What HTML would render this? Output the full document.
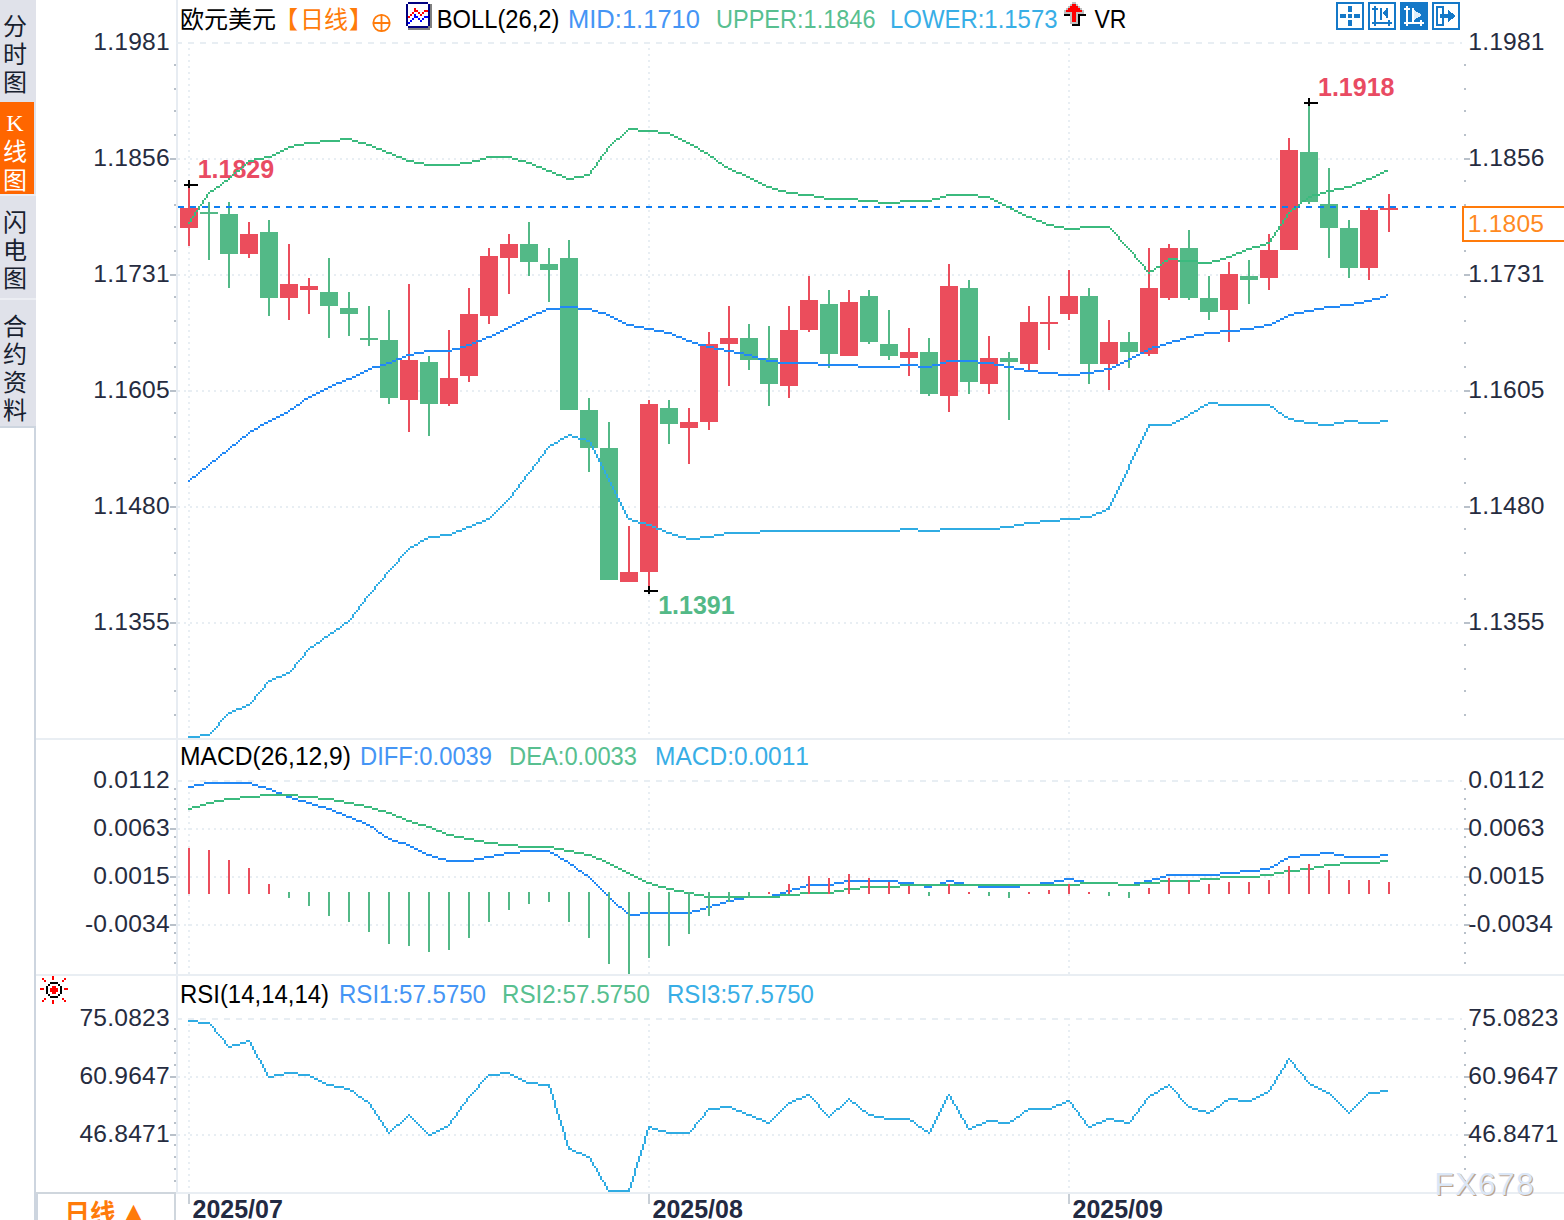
<!DOCTYPE html>
<html lang="zh-CN"><head><meta charset="utf-8"><title>欧元美元 日线</title>
<style>html,body{margin:0;padding:0;background:#fff;}body{width:1564px;height:1220px;overflow:hidden;}svg{display:block;font-family:'Liberation Sans', 'Noto Sans CJK SC', sans-serif;}text{font-kerning:none;font-variant-ligatures:none;}.cr{shape-rendering:crispEdges;}</style></head><body>
<svg width="1564" height="1220" viewBox="0 0 1564 1220">
<rect x="0" y="0" width="1564" height="1220" fill="#ffffff"/>
<g class="cr">
<rect x="34" y="0" width="2" height="1192" fill="#cdd5df"/>
<rect x="34" y="1192" width="4" height="28" fill="#cdd5df"/>
<rect x="176" y="0" width="2" height="1192" fill="#e7ecf2"/>
<rect x="36" y="738" width="1528" height="2" fill="#e9eef3"/>
<rect x="36" y="974" width="1528" height="2" fill="#e9eef3"/>
<rect x="176" y="1192" width="1388" height="2" fill="#e9eef3"/>
<rect x="36" y="1192" width="140" height="2" fill="#cfd6dd"/>
<rect x="174" y="1194" width="2" height="26" fill="#cfd6dd"/>
</g>
<line x1="176" y1="43" x2="1462" y2="43" stroke="#e8eef3" stroke-width="2" stroke-dasharray="6 6" class="cr"/>
<line x1="178" y1="159" x2="1460" y2="159" stroke="#e8eef3" stroke-width="2" stroke-dasharray="2 4" class="cr"/>
<line x1="178" y1="275" x2="1460" y2="275" stroke="#e8eef3" stroke-width="2" stroke-dasharray="2 4" class="cr"/>
<line x1="178" y1="391" x2="1460" y2="391" stroke="#e8eef3" stroke-width="2" stroke-dasharray="2 4" class="cr"/>
<line x1="178" y1="507" x2="1460" y2="507" stroke="#e8eef3" stroke-width="2" stroke-dasharray="2 4" class="cr"/>
<line x1="178" y1="623" x2="1460" y2="623" stroke="#e8eef3" stroke-width="2" stroke-dasharray="2 4" class="cr"/>
<line x1="176" y1="781" x2="1462" y2="781" stroke="#e8eef3" stroke-width="2" stroke-dasharray="6 6" class="cr"/>
<line x1="178" y1="829" x2="1460" y2="829" stroke="#e8eef3" stroke-width="2" stroke-dasharray="2 4" class="cr"/>
<line x1="178" y1="877" x2="1460" y2="877" stroke="#e8eef3" stroke-width="2" stroke-dasharray="2 4" class="cr"/>
<line x1="178" y1="925" x2="1460" y2="925" stroke="#e8eef3" stroke-width="2" stroke-dasharray="2 4" class="cr"/>
<line x1="176" y1="1019" x2="1462" y2="1019" stroke="#e8eef3" stroke-width="2" stroke-dasharray="6 6" class="cr"/>
<line x1="178" y1="1077" x2="1460" y2="1077" stroke="#e8eef3" stroke-width="2" stroke-dasharray="2 4" class="cr"/>
<line x1="178" y1="1135" x2="1460" y2="1135" stroke="#e8eef3" stroke-width="2" stroke-dasharray="2 4" class="cr"/>
<line x1="189" y1="48" x2="189" y2="738" stroke="#e8eef3" stroke-width="2" stroke-dasharray="2 4" class="cr"/>
<line x1="189" y1="786" x2="189" y2="974" stroke="#e8eef3" stroke-width="2" stroke-dasharray="2 4" class="cr"/>
<line x1="189" y1="1024" x2="189" y2="1192" stroke="#e8eef3" stroke-width="2" stroke-dasharray="2 4" class="cr"/>
<line x1="649" y1="48" x2="649" y2="738" stroke="#e8eef3" stroke-width="2" stroke-dasharray="2 4" class="cr"/>
<line x1="649" y1="786" x2="649" y2="974" stroke="#e8eef3" stroke-width="2" stroke-dasharray="2 4" class="cr"/>
<line x1="649" y1="1024" x2="649" y2="1192" stroke="#e8eef3" stroke-width="2" stroke-dasharray="2 4" class="cr"/>
<line x1="1069" y1="48" x2="1069" y2="738" stroke="#e8eef3" stroke-width="2" stroke-dasharray="2 4" class="cr"/>
<line x1="1069" y1="786" x2="1069" y2="974" stroke="#e8eef3" stroke-width="2" stroke-dasharray="2 4" class="cr"/>
<line x1="1069" y1="1024" x2="1069" y2="1192" stroke="#e8eef3" stroke-width="2" stroke-dasharray="2 4" class="cr"/>
<g class="cr">
<rect x="174" y="64" width="2" height="2" fill="#b9c1ca"/>
<rect x="1464" y="64" width="2" height="2" fill="#b9c1ca"/>
<rect x="174" y="88" width="2" height="2" fill="#b9c1ca"/>
<rect x="1464" y="88" width="2" height="2" fill="#b9c1ca"/>
<rect x="174" y="110" width="2" height="2" fill="#b9c1ca"/>
<rect x="1464" y="110" width="2" height="2" fill="#b9c1ca"/>
<rect x="174" y="134" width="2" height="2" fill="#b9c1ca"/>
<rect x="1464" y="134" width="2" height="2" fill="#b9c1ca"/>
<rect x="170" y="158" width="6" height="2" fill="#b9c1ca"/>
<rect x="1464" y="158" width="6" height="2" fill="#b9c1ca"/>
<rect x="174" y="180" width="2" height="2" fill="#b9c1ca"/>
<rect x="1464" y="180" width="2" height="2" fill="#b9c1ca"/>
<rect x="174" y="204" width="2" height="2" fill="#b9c1ca"/>
<rect x="1464" y="204" width="2" height="2" fill="#b9c1ca"/>
<rect x="174" y="226" width="2" height="2" fill="#b9c1ca"/>
<rect x="1464" y="226" width="2" height="2" fill="#b9c1ca"/>
<rect x="174" y="250" width="2" height="2" fill="#b9c1ca"/>
<rect x="1464" y="250" width="2" height="2" fill="#b9c1ca"/>
<rect x="170" y="274" width="6" height="2" fill="#b9c1ca"/>
<rect x="1464" y="274" width="6" height="2" fill="#b9c1ca"/>
<rect x="174" y="296" width="2" height="2" fill="#b9c1ca"/>
<rect x="1464" y="296" width="2" height="2" fill="#b9c1ca"/>
<rect x="174" y="320" width="2" height="2" fill="#b9c1ca"/>
<rect x="1464" y="320" width="2" height="2" fill="#b9c1ca"/>
<rect x="174" y="342" width="2" height="2" fill="#b9c1ca"/>
<rect x="1464" y="342" width="2" height="2" fill="#b9c1ca"/>
<rect x="174" y="366" width="2" height="2" fill="#b9c1ca"/>
<rect x="1464" y="366" width="2" height="2" fill="#b9c1ca"/>
<rect x="170" y="390" width="6" height="2" fill="#b9c1ca"/>
<rect x="1464" y="390" width="6" height="2" fill="#b9c1ca"/>
<rect x="174" y="412" width="2" height="2" fill="#b9c1ca"/>
<rect x="1464" y="412" width="2" height="2" fill="#b9c1ca"/>
<rect x="174" y="436" width="2" height="2" fill="#b9c1ca"/>
<rect x="1464" y="436" width="2" height="2" fill="#b9c1ca"/>
<rect x="174" y="458" width="2" height="2" fill="#b9c1ca"/>
<rect x="1464" y="458" width="2" height="2" fill="#b9c1ca"/>
<rect x="174" y="482" width="2" height="2" fill="#b9c1ca"/>
<rect x="1464" y="482" width="2" height="2" fill="#b9c1ca"/>
<rect x="170" y="506" width="6" height="2" fill="#b9c1ca"/>
<rect x="1464" y="506" width="6" height="2" fill="#b9c1ca"/>
<rect x="174" y="528" width="2" height="2" fill="#b9c1ca"/>
<rect x="1464" y="528" width="2" height="2" fill="#b9c1ca"/>
<rect x="174" y="552" width="2" height="2" fill="#b9c1ca"/>
<rect x="1464" y="552" width="2" height="2" fill="#b9c1ca"/>
<rect x="174" y="574" width="2" height="2" fill="#b9c1ca"/>
<rect x="1464" y="574" width="2" height="2" fill="#b9c1ca"/>
<rect x="174" y="598" width="2" height="2" fill="#b9c1ca"/>
<rect x="1464" y="598" width="2" height="2" fill="#b9c1ca"/>
<rect x="170" y="622" width="6" height="2" fill="#b9c1ca"/>
<rect x="1464" y="622" width="6" height="2" fill="#b9c1ca"/>
<rect x="174" y="644" width="2" height="2" fill="#b9c1ca"/>
<rect x="1464" y="644" width="2" height="2" fill="#b9c1ca"/>
<rect x="174" y="668" width="2" height="2" fill="#b9c1ca"/>
<rect x="1464" y="668" width="2" height="2" fill="#b9c1ca"/>
<rect x="174" y="690" width="2" height="2" fill="#b9c1ca"/>
<rect x="1464" y="690" width="2" height="2" fill="#b9c1ca"/>
<rect x="174" y="714" width="2" height="2" fill="#b9c1ca"/>
<rect x="1464" y="714" width="2" height="2" fill="#b9c1ca"/>
<rect x="174" y="788" width="2" height="2" fill="#b9c1ca"/>
<rect x="1464" y="788" width="2" height="2" fill="#b9c1ca"/>
<rect x="174" y="798" width="2" height="2" fill="#b9c1ca"/>
<rect x="1464" y="798" width="2" height="2" fill="#b9c1ca"/>
<rect x="174" y="808" width="2" height="2" fill="#b9c1ca"/>
<rect x="1464" y="808" width="2" height="2" fill="#b9c1ca"/>
<rect x="174" y="818" width="2" height="2" fill="#b9c1ca"/>
<rect x="1464" y="818" width="2" height="2" fill="#b9c1ca"/>
<rect x="170" y="828" width="6" height="2" fill="#b9c1ca"/>
<rect x="1464" y="828" width="6" height="2" fill="#b9c1ca"/>
<rect x="174" y="836" width="2" height="2" fill="#b9c1ca"/>
<rect x="1464" y="836" width="2" height="2" fill="#b9c1ca"/>
<rect x="174" y="846" width="2" height="2" fill="#b9c1ca"/>
<rect x="1464" y="846" width="2" height="2" fill="#b9c1ca"/>
<rect x="174" y="856" width="2" height="2" fill="#b9c1ca"/>
<rect x="1464" y="856" width="2" height="2" fill="#b9c1ca"/>
<rect x="174" y="866" width="2" height="2" fill="#b9c1ca"/>
<rect x="1464" y="866" width="2" height="2" fill="#b9c1ca"/>
<rect x="170" y="876" width="6" height="2" fill="#b9c1ca"/>
<rect x="1464" y="876" width="6" height="2" fill="#b9c1ca"/>
<rect x="174" y="884" width="2" height="2" fill="#b9c1ca"/>
<rect x="1464" y="884" width="2" height="2" fill="#b9c1ca"/>
<rect x="174" y="894" width="2" height="2" fill="#b9c1ca"/>
<rect x="1464" y="894" width="2" height="2" fill="#b9c1ca"/>
<rect x="174" y="904" width="2" height="2" fill="#b9c1ca"/>
<rect x="1464" y="904" width="2" height="2" fill="#b9c1ca"/>
<rect x="174" y="914" width="2" height="2" fill="#b9c1ca"/>
<rect x="1464" y="914" width="2" height="2" fill="#b9c1ca"/>
<rect x="170" y="924" width="6" height="2" fill="#b9c1ca"/>
<rect x="1464" y="924" width="6" height="2" fill="#b9c1ca"/>
<rect x="174" y="932" width="2" height="2" fill="#b9c1ca"/>
<rect x="1464" y="932" width="2" height="2" fill="#b9c1ca"/>
<rect x="174" y="942" width="2" height="2" fill="#b9c1ca"/>
<rect x="1464" y="942" width="2" height="2" fill="#b9c1ca"/>
<rect x="174" y="952" width="2" height="2" fill="#b9c1ca"/>
<rect x="1464" y="952" width="2" height="2" fill="#b9c1ca"/>
<rect x="174" y="962" width="2" height="2" fill="#b9c1ca"/>
<rect x="1464" y="962" width="2" height="2" fill="#b9c1ca"/>
<rect x="174" y="1028" width="2" height="2" fill="#b9c1ca"/>
<rect x="1464" y="1028" width="2" height="2" fill="#b9c1ca"/>
<rect x="174" y="1040" width="2" height="2" fill="#b9c1ca"/>
<rect x="1464" y="1040" width="2" height="2" fill="#b9c1ca"/>
<rect x="174" y="1052" width="2" height="2" fill="#b9c1ca"/>
<rect x="1464" y="1052" width="2" height="2" fill="#b9c1ca"/>
<rect x="174" y="1064" width="2" height="2" fill="#b9c1ca"/>
<rect x="1464" y="1064" width="2" height="2" fill="#b9c1ca"/>
<rect x="170" y="1076" width="6" height="2" fill="#b9c1ca"/>
<rect x="1464" y="1076" width="6" height="2" fill="#b9c1ca"/>
<rect x="174" y="1086" width="2" height="2" fill="#b9c1ca"/>
<rect x="1464" y="1086" width="2" height="2" fill="#b9c1ca"/>
<rect x="174" y="1098" width="2" height="2" fill="#b9c1ca"/>
<rect x="1464" y="1098" width="2" height="2" fill="#b9c1ca"/>
<rect x="174" y="1110" width="2" height="2" fill="#b9c1ca"/>
<rect x="1464" y="1110" width="2" height="2" fill="#b9c1ca"/>
<rect x="174" y="1122" width="2" height="2" fill="#b9c1ca"/>
<rect x="1464" y="1122" width="2" height="2" fill="#b9c1ca"/>
<rect x="170" y="1134" width="6" height="2" fill="#b9c1ca"/>
<rect x="1464" y="1134" width="6" height="2" fill="#b9c1ca"/>
<rect x="174" y="1144" width="2" height="2" fill="#b9c1ca"/>
<rect x="1464" y="1144" width="2" height="2" fill="#b9c1ca"/>
<rect x="174" y="1156" width="2" height="2" fill="#b9c1ca"/>
<rect x="1464" y="1156" width="2" height="2" fill="#b9c1ca"/>
<rect x="174" y="1168" width="2" height="2" fill="#b9c1ca"/>
<rect x="1464" y="1168" width="2" height="2" fill="#b9c1ca"/>
<rect x="174" y="1180" width="2" height="2" fill="#b9c1ca"/>
<rect x="1464" y="1180" width="2" height="2" fill="#b9c1ca"/>
</g>
<text x="169.8" y="49.5" font-size="24.6" fill="#262c40" text-anchor="end" font-weight="normal" letter-spacing="0.2">1.1981</text>
<text x="1468.3" y="49.5" font-size="24.6" fill="#262c40" text-anchor="start" font-weight="normal" letter-spacing="0.2">1.1981</text>
<text x="169.8" y="165.5" font-size="24.6" fill="#262c40" text-anchor="end" font-weight="normal" letter-spacing="0.2">1.1856</text>
<text x="1468.3" y="165.5" font-size="24.6" fill="#262c40" text-anchor="start" font-weight="normal" letter-spacing="0.2">1.1856</text>
<text x="169.8" y="281.5" font-size="24.6" fill="#262c40" text-anchor="end" font-weight="normal" letter-spacing="0.2">1.1731</text>
<text x="1468.3" y="281.5" font-size="24.6" fill="#262c40" text-anchor="start" font-weight="normal" letter-spacing="0.2">1.1731</text>
<text x="169.8" y="397.5" font-size="24.6" fill="#262c40" text-anchor="end" font-weight="normal" letter-spacing="0.2">1.1605</text>
<text x="1468.3" y="397.5" font-size="24.6" fill="#262c40" text-anchor="start" font-weight="normal" letter-spacing="0.2">1.1605</text>
<text x="169.8" y="513.5" font-size="24.6" fill="#262c40" text-anchor="end" font-weight="normal" letter-spacing="0.2">1.1480</text>
<text x="1468.3" y="513.5" font-size="24.6" fill="#262c40" text-anchor="start" font-weight="normal" letter-spacing="0.2">1.1480</text>
<text x="169.8" y="629.5" font-size="24.6" fill="#262c40" text-anchor="end" font-weight="normal" letter-spacing="0.2">1.1355</text>
<text x="1468.3" y="629.5" font-size="24.6" fill="#262c40" text-anchor="start" font-weight="normal" letter-spacing="0.2">1.1355</text>
<text x="169.8" y="787.5" font-size="24.6" fill="#262c40" text-anchor="end" font-weight="normal" letter-spacing="0.2">0.0112</text>
<text x="1468.3" y="787.5" font-size="24.6" fill="#262c40" text-anchor="start" font-weight="normal" letter-spacing="0.2">0.0112</text>
<text x="169.8" y="835.5" font-size="24.6" fill="#262c40" text-anchor="end" font-weight="normal" letter-spacing="0.2">0.0063</text>
<text x="1468.3" y="835.5" font-size="24.6" fill="#262c40" text-anchor="start" font-weight="normal" letter-spacing="0.2">0.0063</text>
<text x="169.8" y="883.5" font-size="24.6" fill="#262c40" text-anchor="end" font-weight="normal" letter-spacing="0.2">0.0015</text>
<text x="1468.3" y="883.5" font-size="24.6" fill="#262c40" text-anchor="start" font-weight="normal" letter-spacing="0.2">0.0015</text>
<text x="169.8" y="931.5" font-size="24.6" fill="#262c40" text-anchor="end" font-weight="normal" letter-spacing="0.2">-0.0034</text>
<text x="1468.3" y="931.5" font-size="24.6" fill="#262c40" text-anchor="start" font-weight="normal" letter-spacing="0.2">-0.0034</text>
<text x="169.8" y="1025.5" font-size="24.6" fill="#262c40" text-anchor="end" font-weight="normal" letter-spacing="0.2">75.0823</text>
<text x="1468.3" y="1025.5" font-size="24.6" fill="#262c40" text-anchor="start" font-weight="normal" letter-spacing="0.2">75.0823</text>
<text x="169.8" y="1083.5" font-size="24.6" fill="#262c40" text-anchor="end" font-weight="normal" letter-spacing="0.2">60.9647</text>
<text x="1468.3" y="1083.5" font-size="24.6" fill="#262c40" text-anchor="start" font-weight="normal" letter-spacing="0.2">60.9647</text>
<text x="169.8" y="1141.5" font-size="24.6" fill="#262c40" text-anchor="end" font-weight="normal" letter-spacing="0.2">46.8471</text>
<text x="1468.3" y="1141.5" font-size="24.6" fill="#262c40" text-anchor="start" font-weight="normal" letter-spacing="0.2">46.8471</text>
<g class="cr">
<rect x="188" y="186" width="2" height="60" fill="#eb4d5c"/>
<rect x="180" y="208" width="18" height="20" fill="#eb4d5c"/>
<rect x="182" y="210" width="14" height="16" fill="#eb4d5c"/>
<rect x="208" y="202" width="2" height="58" fill="#53b987"/>
<rect x="200" y="212" width="18" height="2" fill="#53b987"/>
<rect x="228" y="202" width="2" height="86" fill="#53b987"/>
<rect x="220" y="214" width="18" height="40" fill="#53b987"/>
<rect x="222" y="216" width="14" height="36" fill="#53b987"/>
<rect x="248" y="222" width="2" height="36" fill="#eb4d5c"/>
<rect x="240" y="234" width="18" height="20" fill="#eb4d5c"/>
<rect x="242" y="236" width="14" height="16" fill="#eb4d5c"/>
<rect x="268" y="220" width="2" height="96" fill="#53b987"/>
<rect x="260" y="232" width="18" height="66" fill="#53b987"/>
<rect x="262" y="234" width="14" height="62" fill="#53b987"/>
<rect x="288" y="244" width="2" height="76" fill="#eb4d5c"/>
<rect x="280" y="284" width="18" height="14" fill="#eb4d5c"/>
<rect x="282" y="286" width="14" height="10" fill="#eb4d5c"/>
<rect x="308" y="278" width="2" height="36" fill="#eb4d5c"/>
<rect x="300" y="286" width="18" height="4" fill="#eb4d5c"/>
<rect x="328" y="258" width="2" height="80" fill="#53b987"/>
<rect x="320" y="292" width="18" height="14" fill="#53b987"/>
<rect x="322" y="294" width="14" height="10" fill="#53b987"/>
<rect x="348" y="292" width="2" height="44" fill="#53b987"/>
<rect x="340" y="308" width="18" height="6" fill="#53b987"/>
<rect x="342" y="310" width="14" height="2" fill="#53b987"/>
<rect x="368" y="306" width="2" height="40" fill="#53b987"/>
<rect x="360" y="338" width="18" height="2" fill="#53b987"/>
<rect x="388" y="310" width="2" height="94" fill="#53b987"/>
<rect x="380" y="340" width="18" height="58" fill="#53b987"/>
<rect x="382" y="342" width="14" height="54" fill="#53b987"/>
<rect x="408" y="284" width="2" height="148" fill="#eb4d5c"/>
<rect x="400" y="360" width="18" height="40" fill="#eb4d5c"/>
<rect x="402" y="362" width="14" height="36" fill="#eb4d5c"/>
<rect x="428" y="356" width="2" height="80" fill="#53b987"/>
<rect x="420" y="362" width="18" height="42" fill="#53b987"/>
<rect x="422" y="364" width="14" height="38" fill="#53b987"/>
<rect x="448" y="330" width="2" height="76" fill="#eb4d5c"/>
<rect x="440" y="378" width="18" height="26" fill="#eb4d5c"/>
<rect x="442" y="380" width="14" height="22" fill="#eb4d5c"/>
<rect x="468" y="288" width="2" height="94" fill="#eb4d5c"/>
<rect x="460" y="314" width="18" height="62" fill="#eb4d5c"/>
<rect x="462" y="316" width="14" height="58" fill="#eb4d5c"/>
<rect x="488" y="248" width="2" height="76" fill="#eb4d5c"/>
<rect x="480" y="256" width="18" height="60" fill="#eb4d5c"/>
<rect x="482" y="258" width="14" height="56" fill="#eb4d5c"/>
<rect x="508" y="234" width="2" height="60" fill="#eb4d5c"/>
<rect x="500" y="244" width="18" height="14" fill="#eb4d5c"/>
<rect x="502" y="246" width="14" height="10" fill="#eb4d5c"/>
<rect x="528" y="222" width="2" height="54" fill="#53b987"/>
<rect x="520" y="244" width="18" height="18" fill="#53b987"/>
<rect x="522" y="246" width="14" height="14" fill="#53b987"/>
<rect x="548" y="248" width="2" height="54" fill="#53b987"/>
<rect x="540" y="264" width="18" height="6" fill="#53b987"/>
<rect x="542" y="266" width="14" height="2" fill="#53b987"/>
<rect x="568" y="240" width="2" height="170" fill="#53b987"/>
<rect x="560" y="258" width="18" height="152" fill="#53b987"/>
<rect x="562" y="260" width="14" height="148" fill="#53b987"/>
<rect x="588" y="398" width="2" height="74" fill="#53b987"/>
<rect x="580" y="410" width="18" height="38" fill="#53b987"/>
<rect x="582" y="412" width="14" height="34" fill="#53b987"/>
<rect x="608" y="422" width="2" height="158" fill="#53b987"/>
<rect x="600" y="448" width="18" height="132" fill="#53b987"/>
<rect x="602" y="450" width="14" height="128" fill="#53b987"/>
<rect x="628" y="526" width="2" height="56" fill="#eb4d5c"/>
<rect x="620" y="572" width="18" height="10" fill="#eb4d5c"/>
<rect x="622" y="574" width="14" height="6" fill="#eb4d5c"/>
<rect x="648" y="400" width="2" height="190" fill="#eb4d5c"/>
<rect x="640" y="404" width="18" height="168" fill="#eb4d5c"/>
<rect x="642" y="406" width="14" height="164" fill="#eb4d5c"/>
<rect x="668" y="400" width="2" height="44" fill="#53b987"/>
<rect x="660" y="408" width="18" height="16" fill="#53b987"/>
<rect x="662" y="410" width="14" height="12" fill="#53b987"/>
<rect x="688" y="408" width="2" height="56" fill="#eb4d5c"/>
<rect x="680" y="422" width="18" height="6" fill="#eb4d5c"/>
<rect x="682" y="424" width="14" height="2" fill="#eb4d5c"/>
<rect x="708" y="332" width="2" height="98" fill="#eb4d5c"/>
<rect x="700" y="344" width="18" height="78" fill="#eb4d5c"/>
<rect x="702" y="346" width="14" height="74" fill="#eb4d5c"/>
<rect x="728" y="306" width="2" height="80" fill="#eb4d5c"/>
<rect x="720" y="338" width="18" height="6" fill="#eb4d5c"/>
<rect x="722" y="340" width="14" height="2" fill="#eb4d5c"/>
<rect x="748" y="324" width="2" height="46" fill="#53b987"/>
<rect x="740" y="338" width="18" height="22" fill="#53b987"/>
<rect x="742" y="340" width="14" height="18" fill="#53b987"/>
<rect x="768" y="326" width="2" height="80" fill="#53b987"/>
<rect x="760" y="358" width="18" height="26" fill="#53b987"/>
<rect x="762" y="360" width="14" height="22" fill="#53b987"/>
<rect x="788" y="306" width="2" height="92" fill="#eb4d5c"/>
<rect x="780" y="330" width="18" height="56" fill="#eb4d5c"/>
<rect x="782" y="332" width="14" height="52" fill="#eb4d5c"/>
<rect x="808" y="276" width="2" height="56" fill="#eb4d5c"/>
<rect x="800" y="300" width="18" height="30" fill="#eb4d5c"/>
<rect x="802" y="302" width="14" height="26" fill="#eb4d5c"/>
<rect x="828" y="290" width="2" height="78" fill="#53b987"/>
<rect x="820" y="304" width="18" height="50" fill="#53b987"/>
<rect x="822" y="306" width="14" height="46" fill="#53b987"/>
<rect x="848" y="290" width="2" height="66" fill="#eb4d5c"/>
<rect x="840" y="302" width="18" height="54" fill="#eb4d5c"/>
<rect x="842" y="304" width="14" height="50" fill="#eb4d5c"/>
<rect x="868" y="290" width="2" height="54" fill="#53b987"/>
<rect x="860" y="296" width="18" height="46" fill="#53b987"/>
<rect x="862" y="298" width="14" height="42" fill="#53b987"/>
<rect x="888" y="310" width="2" height="50" fill="#53b987"/>
<rect x="880" y="344" width="18" height="12" fill="#53b987"/>
<rect x="882" y="346" width="14" height="8" fill="#53b987"/>
<rect x="908" y="328" width="2" height="48" fill="#eb4d5c"/>
<rect x="900" y="352" width="18" height="6" fill="#eb4d5c"/>
<rect x="902" y="354" width="14" height="2" fill="#eb4d5c"/>
<rect x="928" y="338" width="2" height="58" fill="#53b987"/>
<rect x="920" y="352" width="18" height="42" fill="#53b987"/>
<rect x="922" y="354" width="14" height="38" fill="#53b987"/>
<rect x="948" y="264" width="2" height="148" fill="#eb4d5c"/>
<rect x="940" y="286" width="18" height="110" fill="#eb4d5c"/>
<rect x="942" y="288" width="14" height="106" fill="#eb4d5c"/>
<rect x="968" y="280" width="2" height="114" fill="#53b987"/>
<rect x="960" y="288" width="18" height="94" fill="#53b987"/>
<rect x="962" y="290" width="14" height="90" fill="#53b987"/>
<rect x="988" y="336" width="2" height="58" fill="#eb4d5c"/>
<rect x="980" y="358" width="18" height="26" fill="#eb4d5c"/>
<rect x="982" y="360" width="14" height="22" fill="#eb4d5c"/>
<rect x="1008" y="352" width="2" height="68" fill="#53b987"/>
<rect x="1000" y="358" width="18" height="4" fill="#53b987"/>
<rect x="1028" y="306" width="2" height="64" fill="#eb4d5c"/>
<rect x="1020" y="322" width="18" height="42" fill="#eb4d5c"/>
<rect x="1022" y="324" width="14" height="38" fill="#eb4d5c"/>
<rect x="1048" y="296" width="2" height="54" fill="#eb4d5c"/>
<rect x="1040" y="322" width="18" height="2" fill="#eb4d5c"/>
<rect x="1068" y="270" width="2" height="50" fill="#eb4d5c"/>
<rect x="1060" y="296" width="18" height="18" fill="#eb4d5c"/>
<rect x="1062" y="298" width="14" height="14" fill="#eb4d5c"/>
<rect x="1088" y="288" width="2" height="96" fill="#53b987"/>
<rect x="1080" y="296" width="18" height="68" fill="#53b987"/>
<rect x="1082" y="298" width="14" height="64" fill="#53b987"/>
<rect x="1108" y="320" width="2" height="70" fill="#eb4d5c"/>
<rect x="1100" y="342" width="18" height="22" fill="#eb4d5c"/>
<rect x="1102" y="344" width="14" height="18" fill="#eb4d5c"/>
<rect x="1128" y="332" width="2" height="36" fill="#53b987"/>
<rect x="1120" y="342" width="18" height="10" fill="#53b987"/>
<rect x="1122" y="344" width="14" height="6" fill="#53b987"/>
<rect x="1148" y="248" width="2" height="108" fill="#eb4d5c"/>
<rect x="1140" y="288" width="18" height="66" fill="#eb4d5c"/>
<rect x="1142" y="290" width="14" height="62" fill="#eb4d5c"/>
<rect x="1168" y="244" width="2" height="56" fill="#eb4d5c"/>
<rect x="1160" y="248" width="18" height="50" fill="#eb4d5c"/>
<rect x="1162" y="250" width="14" height="46" fill="#eb4d5c"/>
<rect x="1188" y="230" width="2" height="70" fill="#53b987"/>
<rect x="1180" y="248" width="18" height="50" fill="#53b987"/>
<rect x="1182" y="250" width="14" height="46" fill="#53b987"/>
<rect x="1208" y="276" width="2" height="44" fill="#53b987"/>
<rect x="1200" y="298" width="18" height="14" fill="#53b987"/>
<rect x="1202" y="300" width="14" height="10" fill="#53b987"/>
<rect x="1228" y="262" width="2" height="80" fill="#eb4d5c"/>
<rect x="1220" y="274" width="18" height="36" fill="#eb4d5c"/>
<rect x="1222" y="276" width="14" height="32" fill="#eb4d5c"/>
<rect x="1248" y="260" width="2" height="44" fill="#53b987"/>
<rect x="1240" y="276" width="18" height="4" fill="#53b987"/>
<rect x="1268" y="234" width="2" height="56" fill="#eb4d5c"/>
<rect x="1260" y="250" width="18" height="28" fill="#eb4d5c"/>
<rect x="1262" y="252" width="14" height="24" fill="#eb4d5c"/>
<rect x="1288" y="138" width="2" height="112" fill="#eb4d5c"/>
<rect x="1280" y="150" width="18" height="100" fill="#eb4d5c"/>
<rect x="1282" y="152" width="14" height="96" fill="#eb4d5c"/>
<rect x="1308" y="103" width="2" height="101" fill="#53b987"/>
<rect x="1300" y="152" width="18" height="50" fill="#53b987"/>
<rect x="1302" y="154" width="14" height="46" fill="#53b987"/>
<rect x="1328" y="168" width="2" height="90" fill="#53b987"/>
<rect x="1320" y="204" width="18" height="24" fill="#53b987"/>
<rect x="1322" y="206" width="14" height="20" fill="#53b987"/>
<rect x="1348" y="220" width="2" height="58" fill="#53b987"/>
<rect x="1340" y="228" width="18" height="40" fill="#53b987"/>
<rect x="1342" y="230" width="14" height="36" fill="#53b987"/>
<rect x="1368" y="208" width="2" height="72" fill="#eb4d5c"/>
<rect x="1360" y="210" width="18" height="58" fill="#eb4d5c"/>
<rect x="1362" y="212" width="14" height="54" fill="#eb4d5c"/>
<rect x="1388" y="194" width="2" height="38" fill="#eb4d5c"/>
<rect x="1380" y="208" width="18" height="2" fill="#eb4d5c"/>
</g>
<line x1="178" y1="207" x2="1456" y2="207" stroke="#0f7ef2" stroke-width="2" stroke-dasharray="6 6" class="cr"/>
<g class="cr">
<rect x="184" y="184" width="14" height="2" fill="#000"/>
<rect x="188" y="180" width="2" height="8" fill="#000"/>
</g>
<g class="cr">
<rect x="1304" y="102" width="14" height="2" fill="#000"/>
<rect x="1308" y="98" width="2" height="8" fill="#000"/>
</g>
<g class="cr">
<rect x="644" y="590" width="14" height="2" fill="#000"/>
<rect x="648" y="586" width="2" height="8" fill="#000"/>
</g>
<text x="197.7" y="177.5" font-size="25" fill="#e94b63" text-anchor="start" font-weight="bold">1.1829</text>
<text x="1318" y="95.8" font-size="25" fill="#e94b63" text-anchor="start" font-weight="bold">1.1918</text>
<text x="658.2" y="614.1" font-size="25" fill="#53b987" text-anchor="start" font-weight="bold">1.1391</text>
<path d="M1208 403h10M1204 405h4M1218 405h52M1200 407h4M1270 407h4M1198 409h2M1274 409h2M1194 411h4M1276 411h2M1190 413h4M1278 413h4M1188 415h2M1282 415h2M1184 417h4M1284 417h4M1180 419h4M1288 419h6M1176 421h4M1294 421h10M1344 421h14M1380 421h8M1172 423h4M1304 423h14M1334 423h10M1358 423h22M1148 425h24M1318 425h16M1148 427h2M1146 429h2M1146 431h2M1144 433h2M568 435h4M1144 435h2M564 437h4M572 437h6M1142 437h2M560 439h4M578 439h8M1142 439h2M558 441h2M586 441h4M1140 441h2M554 443h4M590 443h2M1140 443h2M550 445h4M590 445h2M1138 445h2M548 447h2M592 447h2M1138 447h2M546 449h2M592 449h2M1136 449h2M544 451h2M594 451h2M1136 451h2M544 453h2M594 453h2M1134 453h2M542 455h2M596 455h2M1134 455h2M540 457h2M596 457h2M1132 457h2M538 459h2M598 459h2M1132 459h2M538 461h2M598 461h2M1130 461h2M536 463h2M600 463h2M1130 463h2M534 465h2M600 465h2M1128 465h2M532 467h2M602 467h2M1128 467h2M532 469h2M602 469h2M1128 469h2M530 471h2M604 471h2M1126 471h2M528 473h2M604 473h2M1126 473h2M526 475h2M606 475h2M1124 475h2M524 477h2M606 477h2M1124 477h2M524 479h2M608 479h2M1122 479h2M522 481h2M608 481h2M1122 481h2M520 483h2M610 483h2M1120 483h2M518 485h2M610 485h2M1120 485h2M518 487h2M612 487h2M1118 487h2M516 489h2M612 489h2M1118 489h2M514 491h2M614 491h2M1116 491h2M512 493h2M614 493h2M1116 493h2M512 495h2M616 495h2M1114 495h2M510 497h2M616 497h2M1114 497h2M508 499h2M618 499h2M1112 499h2M506 501h2M618 501h2M1112 501h2M504 503h2M620 503h2M1110 503h2M502 505h2M620 505h2M1110 505h2M500 507h2M622 507h2M1108 507h2M498 509h2M622 509h2M1106 509h4M496 511h2M624 511h2M1102 511h4M494 513h2M624 513h2M1096 513h6M492 515h2M626 515h2M1092 515h4M490 517h2M626 517h2M1080 517h12M486 519h4M628 519h4M1060 519h20M482 521h4M632 521h6M1040 521h20M476 523h6M638 523h8M1024 523h16M472 525h4M646 525h6M1014 525h10M466 527h6M652 527h4M1000 527h14M462 529h4M656 529h6M900 529h18M940 529h60M456 531h6M662 531h4M760 531h140M918 531h22M452 533h4M666 533h6M724 533h36M440 535h12M672 535h6M714 535h10M428 537h12M678 537h8M700 537h14M424 539h4M686 539h14M420 541h4M418 543h2M414 545h4M410 547h4M408 549h2M406 551h2M404 553h2M402 555h2M400 557h2M398 559h2M398 561h2M396 563h2M394 565h2M392 567h2M390 569h2M388 571h2M386 573h2M384 575h2M384 577h2M382 579h2M380 581h2M378 583h2M376 585h2M374 587h2M374 589h2M372 591h2M370 593h2M368 595h2M366 597h2M364 599h2M364 601h2M362 603h2M360 605h2M358 607h2M358 609h2M356 611h2M354 613h2M352 615h2M352 617h2M350 619h2M348 621h2M344 623h4M342 625h2M340 627h2M336 629h4M334 631h2M330 633h4M328 635h2M324 637h4M322 639h2M320 641h2M316 643h4M314 645h2M310 647h4M308 649h2M306 651h2M304 653h2M304 655h2M302 657h2M300 659h2M298 661h2M296 663h2M294 665h2M294 667h2M292 669h2M290 671h2M286 673h4M282 675h4M276 677h6M272 679h4M268 681h4M266 683h2M264 685h2M264 687h2M262 689h2M260 691h2M258 693h2M256 695h2M254 697h2M254 699h2M252 701h2M250 703h2M246 705h4M242 707h4M236 709h6M232 711h4M228 713h4M226 715h2M224 717h2M222 719h2M220 721h2M218 723h2M218 725h2M216 727h2M214 729h2M212 731h2M210 733h2M200 735h10M188 737h12" fill="none" stroke="#30ace3" stroke-width="2" class="cr"/>
<path d="M1386 295h2M1380 297h6M1372 299h8M1364 301h8M1354 303h10M1340 305h14M560 307h18M1324 307h16M546 309h14M578 309h14M1314 309h10M542 311h4M592 311h6M1304 311h10M536 313h6M598 313h8M1294 313h10M532 315h4M606 315h4M1288 315h6M528 317h4M610 317h4M1284 317h4M524 319h4M614 319h4M1280 319h4M520 321h4M618 321h4M1276 321h4M516 323h4M622 323h4M1272 323h4M512 325h4M626 325h8M1264 325h8M508 327h4M634 327h10M1254 327h10M504 329h4M644 329h10M1240 329h14M500 331h4M654 331h10M1220 331h20M496 333h4M664 333h8M1204 333h16M492 335h4M672 335h4M1194 335h10M486 337h6M676 337h6M1186 337h8M482 339h4M682 339h4M1180 339h6M476 341h6M686 341h6M1172 341h8M472 343h4M692 343h6M1166 343h6M466 345h6M698 345h8M1160 345h6M460 347h6M706 347h8M1152 347h8M452 349h8M714 349h10M1148 349h4M424 351h28M724 351h10M1144 351h4M414 353h10M734 353h10M1140 353h4M406 355h8M744 355h8M1136 355h4M402 357h4M752 357h6M1132 357h4M396 359h6M758 359h8M1128 359h4M392 361h4M766 361h12M946 361h32M1124 361h4M386 363h6M778 363h40M940 363h6M978 363h16M1120 363h4M380 365h6M818 365h40M900 365h18M932 365h8M994 365h10M1116 365h4M372 367h8M858 367h42M918 367h14M1004 367h10M1112 367h4M368 369h4M1014 369h10M1104 369h8M364 371h4M1024 371h14M1094 371h10M360 373h4M1038 373h20M1080 373h14M356 375h4M1058 375h22M352 377h4M346 379h6M342 381h4M336 383h6M332 385h4M328 387h4M324 389h4M320 391h4M316 393h4M312 395h4M308 397h4M304 399h4M302 401h2M300 403h2M296 405h4M294 407h2M290 409h4M288 411h2M284 413h4M280 415h4M276 417h4M272 419h4M268 421h4M264 423h4M260 425h4M258 427h2M254 429h4M250 431h4M248 433h2M246 435h2M242 437h4M240 439h2M238 441h2M236 443h2M232 445h4M230 447h2M228 449h2M226 451h2M222 453h4M220 455h2M218 457h2M216 459h2M212 461h4M210 463h2M208 465h2M206 467h2M202 469h4M200 471h2M198 473h2M196 475h2M192 477h4M190 479h2M188 481h2" fill="none" stroke="#2288f5" stroke-width="2" class="cr"/>
<path d="M628 129h10M626 131h2M638 131h20M624 133h2M658 133h12M622 135h2M670 135h4M620 137h2M674 137h4M340 139h12M616 139h4M678 139h4M320 141h20M352 141h6M614 141h2M682 141h4M304 143h16M358 143h8M612 143h2M686 143h4M294 145h10M366 145h6M610 145h2M690 145h4M288 147h6M372 147h4M608 147h2M694 147h4M284 149h4M376 149h6M606 149h2M698 149h2M280 151h4M382 151h4M606 151h2M700 151h4M276 153h4M386 153h6M604 153h2M704 153h4M272 155h4M392 155h4M602 155h2M708 155h2M264 157h8M396 157h6M486 157h26M600 157h2M710 157h4M254 159h10M402 159h4M480 159h6M512 159h6M600 159h2M714 159h2M248 161h6M406 161h8M472 161h8M518 161h8M598 161h2M716 161h2M246 163h2M414 163h10M460 163h12M526 163h6M596 163h2M718 163h4M244 165h2M424 165h36M532 165h4M596 165h2M722 165h2M242 167h2M536 167h6M594 167h2M724 167h4M240 169h2M542 169h4M592 169h2M728 169h4M236 171h4M546 171h6M590 171h2M732 171h4M1384 171h4M234 173h2M552 173h4M590 173h2M736 173h6M1380 173h4M232 175h2M556 175h6M584 175h6M742 175h4M1376 175h4M230 177h2M562 177h4M574 177h10M746 177h4M1372 177h4M228 179h2M566 179h8M750 179h4M1366 179h6M224 181h4M754 181h4M1362 181h4M222 183h2M758 183h4M1356 183h6M220 185h2M762 185h4M1352 185h4M216 187h4M766 187h6M1344 187h8M214 189h2M772 189h6M1334 189h10M210 191h4M778 191h8M1326 191h8M208 193h2M786 193h12M1320 193h6M206 195h2M798 195h16M946 195h32M1312 195h8M206 197h2M814 197h10M940 197h6M978 197h12M1308 197h4M204 199h2M824 199h34M932 199h8M990 199h4M1306 199h2M202 201h2M858 201h20M900 201h32M994 201h4M1302 201h4M202 203h2M878 203h22M998 203h4M1300 203h2M200 205h2M1002 205h4M1298 205h2M198 207h2M1006 207h4M1296 207h2M198 209h2M1010 209h4M1292 209h4M196 211h2M1014 211h4M1290 211h2M194 213h2M1018 213h4M1288 213h2M194 215h2M1022 215h4M1286 215h2M192 217h2M1026 217h6M1286 217h2M190 219h2M1032 219h4M1284 219h2M190 221h2M1036 221h6M1282 221h2M188 223h2M1042 223h4M1282 223h2M1046 225h8M1280 225h2M1054 227h10M1080 227h30M1278 227h2M1064 229h16M1110 229h2M1278 229h2M1112 231h2M1276 231h2M1114 233h2M1274 233h2M1116 235h2M1274 235h2M1118 237h2M1272 237h2M1118 239h2M1270 239h2M1120 241h2M1270 241h2M1122 243h2M1266 243h4M1124 245h2M1260 245h6M1126 247h2M1252 247h8M1128 249h2M1246 249h6M1130 251h2M1242 251h4M1132 253h2M1236 253h6M1134 255h2M1232 255h4M1134 257h2M1226 257h6M1136 259h2M1168 259h10M1220 259h6M1138 261h2M1164 261h4M1178 261h20M1212 261h8M1140 263h2M1162 263h2M1198 263h14M1142 265h2M1160 265h2M1144 267h2M1156 267h4M1144 269h2M1154 269h2M1146 271h2M1150 271h4M1148 273h2" fill="none" stroke="#3bba7e" stroke-width="2" class="cr"/>
<path d="M204 783h48M194 785h10M252 785h6M188 787h6M258 787h8M266 789h6M272 791h4M276 793h6M282 795h4M286 797h6M292 799h6M298 801h8M306 803h6M312 805h6M318 807h8M326 809h6M332 811h4M336 813h6M342 815h4M346 817h6M352 819h4M356 821h6M362 823h4M366 825h4M370 827h4M374 829h2M376 831h2M378 833h4M382 835h2M384 837h4M388 839h4M392 841h6M398 843h8M406 845h4M410 847h4M414 849h4M418 851h4M520 851h30M422 853h4M504 853h16M550 853h4M1320 853h14M426 855h6M494 855h10M554 855h4M1300 855h20M1334 855h10M1380 855h8M432 857h6M484 857h10M558 857h2M1288 857h12M1344 857h36M438 859h8M474 859h10M560 859h4M1284 859h4M446 861h28M564 861h4M1280 861h4M568 863h2M1278 863h2M570 865h4M1274 865h4M574 867h2M1270 867h4M576 869h2M1260 869h10M578 871h4M1240 871h20M582 873h2M1220 873h20M584 875h4M1166 875h54M588 877h2M1160 877h6M590 879h2M1064 879h10M1152 879h8M592 881h2M844 881h54M946 881h8M1054 881h10M1074 881h10M1144 881h8M594 883h2M834 883h10M898 883h16M940 883h6M954 883h10M1040 883h14M1084 883h34M1134 883h10M596 885h2M806 885h28M914 885h10M932 885h8M964 885h14M1020 885h20M1118 885h16M598 887h2M800 887h6M924 887h8M978 887h42M600 889h2M792 889h8M602 891h2M786 891h6M604 893h2M780 893h6M606 895h2M772 895h8M608 897h2M744 897h28M610 899h2M734 899h10M612 901h2M726 901h8M614 903h2M720 903h6M616 905h2M712 905h8M618 907h4M706 907h6M622 909h2M700 909h6M624 911h2M692 911h8M626 913h2M640 913h52M628 915h12" fill="none" stroke="#2288f5" stroke-width="2" class="cr"/>
<path d="M260 795h38M240 797h20M298 797h20M224 799h16M318 799h16M214 801h10M334 801h10M206 803h8M344 803h10M200 805h6M354 805h10M192 807h8M364 807h8M188 809h4M372 809h6M378 811h8M386 813h6M392 815h4M396 817h6M402 819h4M406 821h6M412 823h6M418 825h8M426 827h6M432 829h4M436 831h6M442 833h4M446 835h8M454 837h10M464 839h10M474 841h10M484 843h14M498 845h20M518 847h36M554 849h10M564 851h10M574 853h10M584 855h8M592 857h4M596 859h6M602 861h4M1380 861h8M606 863h4M1340 863h40M610 865h4M1324 865h16M614 867h4M1314 867h10M618 869h4M1300 869h14M622 871h4M1284 871h16M626 873h4M1274 873h10M630 875h4M1260 875h14M634 877h4M1220 877h40M638 879h4M1200 879h20M642 881h4M1160 881h40M646 883h6M1080 883h38M1140 883h20M652 885h6M900 885h180M1118 885h22M658 887h8M860 887h40M666 889h8M844 889h16M674 891h10M834 891h10M684 893h10M800 893h34M694 895h10M780 895h20M704 897h76" fill="none" stroke="#3bba7e" stroke-width="2" class="cr"/>
<g class="cr">
<rect x="188" y="848" width="2" height="46" fill="#eb4d5c"/>
<rect x="208" y="850" width="2" height="44" fill="#eb4d5c"/>
<rect x="228" y="860" width="2" height="34" fill="#eb4d5c"/>
<rect x="248" y="868" width="2" height="26" fill="#eb4d5c"/>
<rect x="268" y="884" width="2" height="10" fill="#eb4d5c"/>
<rect x="288" y="892" width="2" height="6" fill="#53b987"/>
<rect x="308" y="892" width="2" height="14" fill="#53b987"/>
<rect x="328" y="892" width="2" height="24" fill="#53b987"/>
<rect x="348" y="892" width="2" height="30" fill="#53b987"/>
<rect x="368" y="892" width="2" height="40" fill="#53b987"/>
<rect x="388" y="892" width="2" height="52" fill="#53b987"/>
<rect x="408" y="892" width="2" height="54" fill="#53b987"/>
<rect x="428" y="892" width="2" height="60" fill="#53b987"/>
<rect x="448" y="892" width="2" height="58" fill="#53b987"/>
<rect x="468" y="892" width="2" height="46" fill="#53b987"/>
<rect x="488" y="892" width="2" height="30" fill="#53b987"/>
<rect x="508" y="892" width="2" height="18" fill="#53b987"/>
<rect x="528" y="892" width="2" height="12" fill="#53b987"/>
<rect x="548" y="892" width="2" height="10" fill="#53b987"/>
<rect x="568" y="892" width="2" height="30" fill="#53b987"/>
<rect x="588" y="892" width="2" height="46" fill="#53b987"/>
<rect x="608" y="892" width="2" height="72" fill="#53b987"/>
<rect x="628" y="892" width="2" height="82" fill="#53b987"/>
<rect x="648" y="892" width="2" height="66" fill="#53b987"/>
<rect x="668" y="892" width="2" height="54" fill="#53b987"/>
<rect x="688" y="892" width="2" height="42" fill="#53b987"/>
<rect x="708" y="892" width="2" height="24" fill="#53b987"/>
<rect x="728" y="892" width="2" height="10" fill="#53b987"/>
<rect x="748" y="892" width="2" height="6" fill="#53b987"/>
<rect x="768" y="892" width="2" height="2" fill="#eb4d5c"/>
<rect x="788" y="884" width="2" height="10" fill="#eb4d5c"/>
<rect x="808" y="876" width="2" height="18" fill="#eb4d5c"/>
<rect x="828" y="878" width="2" height="16" fill="#eb4d5c"/>
<rect x="848" y="874" width="2" height="20" fill="#eb4d5c"/>
<rect x="868" y="878" width="2" height="16" fill="#eb4d5c"/>
<rect x="888" y="882" width="2" height="12" fill="#eb4d5c"/>
<rect x="908" y="886" width="2" height="8" fill="#eb4d5c"/>
<rect x="928" y="892" width="2" height="4" fill="#53b987"/>
<rect x="948" y="884" width="2" height="10" fill="#eb4d5c"/>
<rect x="968" y="892" width="2" height="2" fill="#eb4d5c"/>
<rect x="988" y="892" width="2" height="4" fill="#53b987"/>
<rect x="1008" y="892" width="2" height="6" fill="#53b987"/>
<rect x="1028" y="892" width="2" height="2" fill="#eb4d5c"/>
<rect x="1048" y="890" width="2" height="4" fill="#eb4d5c"/>
<rect x="1068" y="884" width="2" height="10" fill="#eb4d5c"/>
<rect x="1088" y="892" width="2" height="2" fill="#eb4d5c"/>
<rect x="1108" y="892" width="2" height="4" fill="#53b987"/>
<rect x="1128" y="892" width="2" height="6" fill="#53b987"/>
<rect x="1148" y="888" width="2" height="6" fill="#eb4d5c"/>
<rect x="1168" y="878" width="2" height="16" fill="#eb4d5c"/>
<rect x="1188" y="880" width="2" height="14" fill="#eb4d5c"/>
<rect x="1208" y="884" width="2" height="10" fill="#eb4d5c"/>
<rect x="1228" y="882" width="2" height="12" fill="#eb4d5c"/>
<rect x="1248" y="882" width="2" height="12" fill="#eb4d5c"/>
<rect x="1268" y="880" width="2" height="14" fill="#eb4d5c"/>
<rect x="1288" y="866" width="2" height="28" fill="#eb4d5c"/>
<rect x="1308" y="864" width="2" height="30" fill="#eb4d5c"/>
<rect x="1328" y="870" width="2" height="24" fill="#eb4d5c"/>
<rect x="1348" y="880" width="2" height="14" fill="#eb4d5c"/>
<rect x="1368" y="880" width="2" height="14" fill="#eb4d5c"/>
<rect x="1388" y="882" width="2" height="12" fill="#eb4d5c"/>
</g>
<path d="M188 1021h10M198 1023h12M210 1025h2M212 1027h2M214 1029h2M214 1031h2M216 1033h2M218 1035h2M220 1037h2M222 1039h2M224 1041h2M246 1041h4M224 1043h2M240 1043h6M250 1043h2M226 1045h2M232 1045h8M250 1045h2M228 1047h4M252 1047h2M252 1049h2M254 1051h2M254 1053h2M256 1055h2M256 1057h2M258 1059h2M1288 1059h2M260 1061h2M1286 1061h2M1290 1061h2M260 1063h2M1286 1063h2M1292 1063h2M262 1065h2M1284 1065h2M1294 1065h2M262 1067h2M1284 1067h2M1294 1067h2M264 1069h2M1282 1069h2M1296 1069h2M264 1071h2M1280 1071h2M1298 1071h2M266 1073h2M284 1073h14M500 1073h10M1280 1073h2M1300 1073h2M266 1075h2M274 1075h10M298 1075h12M488 1075h12M510 1075h4M1278 1075h2M1302 1075h2M268 1077h6M310 1077h4M486 1077h2M514 1077h4M1276 1077h2M1304 1077h2M314 1079h4M484 1079h2M518 1079h4M1276 1079h2M1304 1079h2M318 1081h4M482 1081h2M522 1081h4M1274 1081h2M1306 1081h2M322 1083h4M480 1083h2M526 1083h12M1274 1083h2M1308 1083h2M326 1085h8M478 1085h2M538 1085h12M1168 1085h2M1272 1085h2M1310 1085h4M334 1087h10M478 1087h2M548 1087h2M1164 1087h4M1170 1087h2M1270 1087h2M1314 1087h4M344 1089h6M476 1089h2M550 1089h2M1160 1089h4M1172 1089h2M1270 1089h2M1318 1089h4M350 1091h4M474 1091h2M550 1091h2M1158 1091h2M1174 1091h2M1268 1091h2M1322 1091h4M1380 1091h8M354 1093h2M472 1093h2M550 1093h2M1154 1093h4M1176 1093h2M1264 1093h4M1326 1093h4M1368 1093h12M356 1095h2M470 1095h2M552 1095h2M806 1095h4M948 1095h2M1150 1095h4M1178 1095h2M1260 1095h4M1330 1095h2M1366 1095h2M358 1097h4M468 1097h2M552 1097h2M802 1097h4M810 1097h2M946 1097h2M950 1097h2M1148 1097h2M1178 1097h2M1256 1097h4M1332 1097h2M1364 1097h2M362 1099h2M466 1099h2M552 1099h2M796 1099h6M812 1099h2M848 1099h2M946 1099h2M950 1099h2M1146 1099h2M1180 1099h2M1228 1099h10M1252 1099h4M1334 1099h2M1362 1099h2M364 1101h4M466 1101h2M554 1101h2M792 1101h4M814 1101h2M846 1101h2M850 1101h2M944 1101h2M952 1101h2M1066 1101h4M1144 1101h2M1182 1101h2M1224 1101h4M1238 1101h14M1336 1101h2M1360 1101h2M368 1103h2M464 1103h2M554 1103h2M788 1103h4M816 1103h2M844 1103h2M852 1103h4M944 1103h2M952 1103h2M1062 1103h4M1070 1103h2M1144 1103h2M1184 1103h2M1222 1103h2M1338 1103h2M1358 1103h2M370 1105h2M462 1105h2M554 1105h2M786 1105h2M818 1105h2M842 1105h2M856 1105h2M942 1105h2M954 1105h2M1056 1105h6M1072 1105h2M1142 1105h2M1186 1105h2M1220 1105h2M1340 1105h2M1356 1105h2M370 1107h2M460 1107h2M554 1107h2M720 1107h12M784 1107h2M818 1107h2M840 1107h2M858 1107h2M942 1107h2M956 1107h2M1052 1107h4M1072 1107h2M1140 1107h2M1188 1107h4M1216 1107h4M1342 1107h2M1354 1107h2M372 1109h2M460 1109h2M556 1109h2M708 1109h12M732 1109h4M782 1109h2M820 1109h2M836 1109h4M860 1109h2M940 1109h2M956 1109h2M1028 1109h24M1074 1109h2M1138 1109h2M1192 1109h6M1214 1109h2M1344 1109h2M1352 1109h2M374 1111h2M458 1111h2M556 1111h2M706 1111h2M736 1111h6M780 1111h2M822 1111h2M834 1111h2M862 1111h4M940 1111h2M958 1111h2M1024 1111h4M1076 1111h2M1138 1111h2M1198 1111h8M1210 1111h4M1346 1111h2M1350 1111h2M374 1113h2M456 1113h2M556 1113h2M704 1113h2M742 1113h4M778 1113h2M824 1113h2M832 1113h2M866 1113h2M938 1113h2M958 1113h2M1022 1113h2M1078 1113h2M1136 1113h2M1206 1113h4M1348 1113h2M376 1115h2M408 1115h2M456 1115h2M558 1115h2M704 1115h2M746 1115h6M776 1115h2M826 1115h2M830 1115h2M868 1115h6M938 1115h2M960 1115h2M1020 1115h2M1078 1115h2M1134 1115h2M378 1117h2M406 1117h2M410 1117h2M454 1117h2M558 1117h2M702 1117h2M752 1117h4M774 1117h2M828 1117h2M874 1117h10M936 1117h2M960 1117h2M1016 1117h4M1080 1117h2M1132 1117h2M378 1119h2M404 1119h2M412 1119h2M452 1119h2M558 1119h2M700 1119h2M756 1119h6M772 1119h2M884 1119h26M936 1119h2M962 1119h2M1014 1119h2M1082 1119h2M1106 1119h8M1132 1119h2M380 1121h2M402 1121h2M414 1121h2M450 1121h2M560 1121h2M698 1121h2M762 1121h4M770 1121h2M910 1121h4M934 1121h2M964 1121h2M986 1121h12M1010 1121h4M1084 1121h2M1102 1121h4M1114 1121h10M1130 1121h2M382 1123h2M400 1123h2M416 1123h2M450 1123h2M560 1123h2M696 1123h2M766 1123h4M914 1123h2M934 1123h2M964 1123h2M982 1123h4M998 1123h12M1084 1123h2M1096 1123h6M1124 1123h6M382 1125h2M396 1125h4M418 1125h2M448 1125h2M560 1125h2M694 1125h2M916 1125h2M932 1125h2M966 1125h2M976 1125h6M1086 1125h2M1092 1125h4M384 1127h2M394 1127h2M420 1127h2M444 1127h4M562 1127h2M648 1127h4M694 1127h2M918 1127h4M932 1127h2M966 1127h2M972 1127h4M1088 1127h4M386 1129h2M392 1129h2M422 1129h2M440 1129h4M562 1129h2M648 1129h2M652 1129h6M692 1129h2M922 1129h2M930 1129h2M968 1129h4M386 1131h2M390 1131h2M424 1131h2M436 1131h4M562 1131h2M646 1131h2M658 1131h8M690 1131h2M924 1131h4M930 1131h2M388 1133h2M426 1133h2M432 1133h4M564 1133h2M646 1133h2M666 1133h24M928 1133h2M428 1135h4M564 1135h2M646 1135h2M564 1137h2M644 1137h2M564 1139h2M644 1139h2M566 1141h2M644 1141h2M566 1143h2M644 1143h2M566 1145h2M642 1145h2M568 1147h2M642 1147h2M568 1149h4M642 1149h2M572 1151h4M640 1151h2M576 1153h6M640 1153h2M582 1155h4M640 1155h2M586 1157h4M638 1157h2M590 1159h2M638 1159h2M590 1161h2M638 1161h2M592 1163h2M636 1163h2M592 1165h2M636 1165h2M594 1167h2M636 1167h2M596 1169h2M634 1169h2M596 1171h2M634 1171h2M598 1173h2M634 1173h2M598 1175h2M634 1175h2M600 1177h2M632 1177h2M600 1179h2M632 1179h2M602 1181h2M632 1181h2M604 1183h2M630 1183h2M604 1185h2M630 1185h2M606 1187h2M630 1187h2M606 1189h2M628 1189h2M608 1191h22" fill="none" stroke="#30ace3" stroke-width="2" class="cr"/>
<text x="180" y="28" font-size="24" fill="#000" text-anchor="start" font-weight="normal" textLength="96" lengthAdjust="spacingAndGlyphs" font-family="'Liberation Sans', 'Noto Sans CJK SC', sans-serif">欧元美元</text>
<text x="274" y="28" font-size="24" fill="#ff7b0a" text-anchor="start" font-weight="normal" font-family="'Liberation Sans', 'Noto Sans CJK SC', sans-serif">【</text>
<text x="300" y="28" font-size="24" fill="#ff7b0a" text-anchor="start" font-weight="normal" textLength="48" lengthAdjust="spacingAndGlyphs" font-family="'Liberation Sans', 'Noto Sans CJK SC', sans-serif">日线</text>
<text x="349" y="28" font-size="24" fill="#ff7b0a" text-anchor="start" font-weight="normal" font-family="'Liberation Sans', 'Noto Sans CJK SC', sans-serif">】</text>
<g fill="none" stroke="#ff7b0a" stroke-width="1.8"><circle cx="381.5" cy="23" r="8.2"/><path d="M373 23H390M381.5 14.5V31.5"/></g>
<g class="cr">
<rect x="408" y="28" width="22" height="2" fill="#808080"/>
<rect x="430" y="4" width="2" height="24" fill="#808080"/>
<rect x="428" y="26" width="2" height="2" fill="#808080"/>
<rect x="408" y="2" width="20" height="2" fill="#000080"/>
<rect x="408" y="26" width="20" height="2" fill="#000080"/>
<rect x="406" y="4" width="2" height="22" fill="#000080"/>
<rect x="428" y="4" width="2" height="22" fill="#000080"/>
<rect x="408" y="16" width="2" height="2" fill="#ff0000"/>
<rect x="408" y="22" width="2" height="2" fill="#0000ff"/>
<rect x="410" y="14" width="2" height="2" fill="#ff0000"/>
<rect x="410" y="20" width="2" height="2" fill="#0000ff"/>
<rect x="412" y="12" width="2" height="2" fill="#ff0000"/>
<rect x="412" y="18" width="2" height="2" fill="#0000ff"/>
<rect x="414" y="8" width="2" height="2" fill="#ff0000"/>
<rect x="414" y="14" width="2" height="2" fill="#0000ff"/>
<rect x="414" y="10" width="2" height="2" fill="#ff0000"/>
<rect x="414" y="16" width="2" height="2" fill="#0000ff"/>
<rect x="416" y="10" width="2" height="2" fill="#ff0000"/>
<rect x="416" y="16" width="2" height="2" fill="#0000ff"/>
<rect x="418" y="12" width="2" height="2" fill="#ff0000"/>
<rect x="418" y="18" width="2" height="2" fill="#0000ff"/>
<rect x="420" y="14" width="2" height="2" fill="#ff0000"/>
<rect x="420" y="20" width="2" height="2" fill="#0000ff"/>
<rect x="422" y="12" width="2" height="2" fill="#ff0000"/>
<rect x="422" y="18" width="2" height="2" fill="#0000ff"/>
<rect x="424" y="10" width="2" height="2" fill="#ff0000"/>
<rect x="424" y="16" width="2" height="2" fill="#0000ff"/>
<rect x="426" y="10" width="2" height="2" fill="#ff0000"/>
<rect x="426" y="16" width="2" height="2" fill="#0000ff"/>
</g>
<text x="436.8" y="27.6" font-size="25" fill="#000" text-anchor="start" font-weight="normal" textLength="122.5" lengthAdjust="spacingAndGlyphs">BOLL(26,2)</text>
<text x="568" y="27.6" font-size="25" fill="#4595f5" text-anchor="start" font-weight="normal" textLength="132" lengthAdjust="spacingAndGlyphs">MID:1.1710</text>
<text x="716" y="27.6" font-size="25" fill="#58bf90" text-anchor="start" font-weight="normal" textLength="159.5" lengthAdjust="spacingAndGlyphs">UPPER:1.1846</text>
<text x="890" y="27.6" font-size="25" fill="#38aee6" text-anchor="start" font-weight="normal" textLength="167.5" lengthAdjust="spacingAndGlyphs">LOWER:1.1573</text>
<g class="cr">
<rect x="1064" y="14" width="6" height="2" fill="#000000"/>
<rect x="1078" y="14" width="8" height="2" fill="#000000"/>
<rect x="1078" y="16" width="2" height="10" fill="#000000"/>
<rect x="1072" y="24" width="8" height="2" fill="#000000"/>
<rect x="1072" y="2" width="4" height="2" fill="#c0c0c0"/>
<rect x="1070" y="4" width="8" height="2" fill="#c0c0c0"/>
<rect x="1068" y="6" width="12" height="2" fill="#c0c0c0"/>
<rect x="1066" y="8" width="16" height="2" fill="#c0c0c0"/>
<rect x="1064" y="10" width="20" height="4" fill="#c0c0c0"/>
<rect x="1070" y="14" width="8" height="10" fill="#c0c0c0"/>
<rect x="1072" y="4" width="4" height="2" fill="#ff0000"/>
<rect x="1070" y="6" width="8" height="2" fill="#ff0000"/>
<rect x="1068" y="8" width="12" height="2" fill="#ff0000"/>
<rect x="1066" y="10" width="16" height="2" fill="#ff0000"/>
<rect x="1072" y="12" width="4" height="10" fill="#ff0000"/>
</g>
<text x="1094.4" y="27.6" font-size="25" fill="#000" text-anchor="start" font-weight="normal" textLength="32" lengthAdjust="spacingAndGlyphs">VR</text>
<g class="cr">
<rect x="1336" y="2" width="28" height="28" fill="#1478c8"/>
<rect x="1338" y="4" width="24" height="24" fill="#fff"/>
<rect x="1368" y="2" width="28" height="28" fill="#1478c8"/>
<rect x="1370" y="4" width="24" height="24" fill="#fff"/>
<rect x="1400" y="2" width="28" height="28" fill="#1478c8"/>
<rect x="1432" y="2" width="28" height="28" fill="#1478c8"/>
<rect x="1434" y="4" width="24" height="24" fill="#fff"/>
<rect x="1348" y="6" width="4" height="6" fill="#1478c8"/>
<rect x="1348" y="20" width="4" height="6" fill="#1478c8"/>
<rect x="1340" y="14" width="6" height="4" fill="#1478c8"/>
<rect x="1354" y="14" width="6" height="4" fill="#1478c8"/>
<rect x="1348" y="14" width="4" height="4" fill="#1478c8"/>
<rect x="1374" y="6" width="2" height="20" fill="#1478c8"/>
<rect x="1372" y="22" width="20" height="2" fill="#1478c8"/>
<rect x="1372" y="8" width="6" height="2" fill="#1478c8"/>
<rect x="1388" y="20" width="2" height="6" fill="#1478c8"/>
<rect x="1380" y="8" width="2" height="12" fill="#1478c8"/>
<rect x="1386" y="8" width="2" height="10" fill="#1478c8"/>
<path d="M1382 13L1387 9V17Z" fill="#1478c8"/>
<rect x="1406" y="6" width="2" height="20" fill="#fff"/>
<rect x="1404" y="22" width="20" height="2" fill="#fff"/>
<rect x="1404" y="8" width="6" height="2" fill="#fff"/>
<rect x="1420" y="20" width="2" height="6" fill="#fff"/>
<rect x="1412" y="8" width="2" height="14" fill="#fff"/>
<path d="M1414 10L1422 15L1414 20Z" fill="#e0eefa"/>
<rect x="1436" y="6" width="8" height="20" fill="#1478c8"/>
<rect x="1438" y="8" width="4" height="16" fill="#fff"/>
<rect x="1440" y="14" width="12" height="4" fill="#1478c8"/>
<path d="M1448 10L1456 16L1448 22Z" fill="#1478c8"/>
</g>
<g class="cr">
<rect x="1462" y="206" width="110" height="36" fill="#ff7b0a"/>
<rect x="1464" y="208" width="110" height="32" fill="#ffffff"/>
</g>
<text x="1467.8" y="232" font-size="24.6" fill="#ff8a1f" text-anchor="start" font-weight="normal" letter-spacing="0.2">1.1805</text>
<text x="180" y="765.4" font-size="25" fill="#000" text-anchor="start" font-weight="normal" textLength="171" lengthAdjust="spacingAndGlyphs">MACD(26,12,9)</text>
<text x="360" y="765.4" font-size="25" fill="#4595f5" text-anchor="start" font-weight="normal" textLength="132" lengthAdjust="spacingAndGlyphs">DIFF:0.0039</text>
<text x="509" y="765.4" font-size="25" fill="#58bf90" text-anchor="start" font-weight="normal" textLength="128" lengthAdjust="spacingAndGlyphs">DEA:0.0033</text>
<text x="655" y="765.4" font-size="25" fill="#38aee6" text-anchor="start" font-weight="normal" textLength="154" lengthAdjust="spacingAndGlyphs">MACD:0.0011</text>
<text x="180" y="1003.4" font-size="25" fill="#000" text-anchor="start" font-weight="normal" textLength="149" lengthAdjust="spacingAndGlyphs">RSI(14,14,14)</text>
<text x="339" y="1003.4" font-size="25" fill="#4595f5" text-anchor="start" font-weight="normal" textLength="147" lengthAdjust="spacingAndGlyphs">RSI1:57.5750</text>
<text x="502" y="1003.4" font-size="25" fill="#58bf90" text-anchor="start" font-weight="normal" textLength="148" lengthAdjust="spacingAndGlyphs">RSI2:57.5750</text>
<text x="667" y="1003.4" font-size="25" fill="#38aee6" text-anchor="start" font-weight="normal" textLength="147" lengthAdjust="spacingAndGlyphs">RSI3:57.5750</text>
<g class="cr">
<rect x="52" y="976" width="2" height="4" fill="#ff0000"/>
<rect x="52" y="1000" width="2" height="4" fill="#ff0000"/>
<rect x="40" y="988" width="4" height="2" fill="#ff0000"/>
<rect x="64" y="988" width="4" height="2" fill="#ff0000"/>
<rect x="42" y="978" width="2" height="2" fill="#ff0000"/>
<rect x="44" y="980" width="2" height="2" fill="#ff0000"/>
<rect x="64" y="978" width="2" height="2" fill="#ff0000"/>
<rect x="62" y="980" width="2" height="2" fill="#ff0000"/>
<rect x="44" y="998" width="2" height="2" fill="#ff0000"/>
<rect x="42" y="1000" width="2" height="2" fill="#ff0000"/>
<rect x="62" y="998" width="2" height="2" fill="#ff0000"/>
<rect x="64" y="1000" width="2" height="2" fill="#ff0000"/>
<rect x="50" y="982" width="8" height="2" fill="#000000"/>
<rect x="50" y="996" width="8" height="2" fill="#000000"/>
<rect x="46" y="986" width="2" height="8" fill="#000000"/>
<rect x="60" y="986" width="2" height="8" fill="#000000"/>
<rect x="48" y="984" width="2" height="2" fill="#000000"/>
<rect x="58" y="984" width="2" height="2" fill="#000000"/>
<rect x="48" y="994" width="2" height="2" fill="#000000"/>
<rect x="58" y="994" width="2" height="2" fill="#000000"/>
<rect x="52" y="986" width="4" height="8" fill="#ff0000"/>
<rect x="50" y="988" width="8" height="4" fill="#ff0000"/>
</g>
<g class="cr">
<rect x="188" y="1194" width="2" height="10" fill="#c8cfd6"/>
<rect x="648" y="1194" width="2" height="10" fill="#c8cfd6"/>
<rect x="1068" y="1194" width="2" height="10" fill="#c8cfd6"/>
</g>
<text x="192.5" y="1218.3" font-size="25" fill="#232a42" text-anchor="start" font-weight="bold">2025/07</text>
<text x="652.5" y="1218.3" font-size="25" fill="#232a42" text-anchor="start" font-weight="bold">2025/08</text>
<text x="1072.5" y="1218.3" font-size="25" fill="#232a42" text-anchor="start" font-weight="bold">2025/09</text>
<text x="64.5" y="1223" font-size="26" fill="#ff7b0a" text-anchor="start" font-weight="bold" textLength="51" lengthAdjust="spacingAndGlyphs" font-family="'Liberation Sans', 'Noto Sans CJK SC', sans-serif">日线</text>
<text x="133.7" y="1221" font-size="28" fill="#ff7b0a" text-anchor="middle" font-weight="normal" font-family="'Liberation Sans', 'Noto Sans CJK SC', sans-serif">▲</text>
<text x="1435.4" y="1196.2" font-size="32" fill="#bca28d" textLength="99.5" lengthAdjust="spacing">FX678</text>
<text x="1434.2" y="1195" font-size="32" fill="#dbe7f7" textLength="99.5" lengthAdjust="spacing">FX678</text>
<g class="cr">
<rect x="0" y="0" width="36" height="426" fill="#e0e2ea"/>
<rect x="0" y="426" width="36" height="2" fill="#cdd5df"/>
<rect x="0" y="102" width="34" height="92" fill="#ff6600"/>
<rect x="0" y="194" width="36" height="2" fill="#eceef3"/>
<rect x="0" y="298" width="36" height="2" fill="#eceef3"/>
</g>
<text x="15" y="35" font-size="24" fill="#18212f" text-anchor="middle" font-weight="400" font-family="'Liberation Serif', 'Noto Sans CJK SC', sans-serif">分</text>
<text x="15" y="63" font-size="24" fill="#18212f" text-anchor="middle" font-weight="400" font-family="'Liberation Serif', 'Noto Sans CJK SC', sans-serif">时</text>
<text x="15" y="91" font-size="24" fill="#18212f" text-anchor="middle" font-weight="400" font-family="'Liberation Serif', 'Noto Sans CJK SC', sans-serif">图</text>
<text x="15" y="131" font-size="24" fill="#ffffff" text-anchor="middle" font-weight="400" font-family="'Liberation Serif', 'Noto Sans CJK SC', sans-serif">K</text>
<text x="15" y="160" font-size="24" fill="#ffffff" text-anchor="middle" font-weight="400" font-family="'Liberation Serif', 'Noto Sans CJK SC', sans-serif">线</text>
<text x="15" y="189" font-size="24" fill="#ffffff" text-anchor="middle" font-weight="400" font-family="'Liberation Serif', 'Noto Sans CJK SC', sans-serif">图</text>
<text x="15" y="231" font-size="24" fill="#18212f" text-anchor="middle" font-weight="400" font-family="'Liberation Serif', 'Noto Sans CJK SC', sans-serif">闪</text>
<text x="15" y="259" font-size="24" fill="#18212f" text-anchor="middle" font-weight="400" font-family="'Liberation Serif', 'Noto Sans CJK SC', sans-serif">电</text>
<text x="15" y="287" font-size="24" fill="#18212f" text-anchor="middle" font-weight="400" font-family="'Liberation Serif', 'Noto Sans CJK SC', sans-serif">图</text>
<text x="15" y="335" font-size="24" fill="#18212f" text-anchor="middle" font-weight="400" font-family="'Liberation Serif', 'Noto Sans CJK SC', sans-serif">合</text>
<text x="15" y="363" font-size="24" fill="#18212f" text-anchor="middle" font-weight="400" font-family="'Liberation Serif', 'Noto Sans CJK SC', sans-serif">约</text>
<text x="15" y="391" font-size="24" fill="#18212f" text-anchor="middle" font-weight="400" font-family="'Liberation Serif', 'Noto Sans CJK SC', sans-serif">资</text>
<text x="15" y="419" font-size="24" fill="#18212f" text-anchor="middle" font-weight="400" font-family="'Liberation Serif', 'Noto Sans CJK SC', sans-serif">料</text>
</svg></body></html>
